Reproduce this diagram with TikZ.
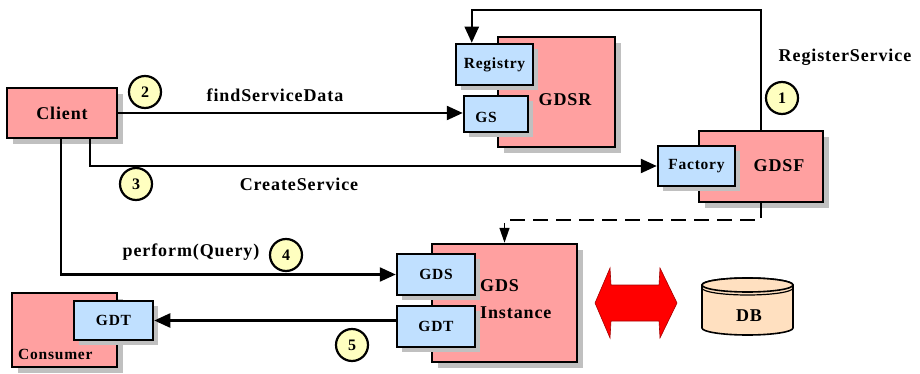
\documentclass[tikz,border=0pt]{standalone}
\usepackage{fontspec}
\setmainfont{Liberation Serif}[LetterSpace=5]
\usetikzlibrary{arrows.meta,shadows,calc}

\definecolor{pinkc}{RGB}{255,160,160}
\definecolor{bluec}{RGB}{192,224,255}
\definecolor{yellowc}{RGB}{255,255,192}
\definecolor{shadowc}{RGB}{192,192,192}
\definecolor{peachc}{RGB}{255,224,192}
\definecolor{arrowred}{RGB}{255,0,0}

\newcommand\bigfnt{\fontsize{18}{27}\selectfont\bfseries}
\newcommand\smallfnt{\fontsize{15.5}{18}\selectfont\bfseries}

\tikzset{
  pinkbox/.style={draw, line width=2.5pt, fill=pinkc, inner sep=0pt,
    general shadow={fill=shadowc, shadow xshift=6pt, shadow yshift=-6pt}},
  bluebox/.style={draw, line width=2.5pt, fill=bluec, inner sep=0pt, font=\smallfnt,
    general shadow={fill=shadowc, shadow xshift=5pt, shadow yshift=-5pt}},
  numcirc/.style={circle, draw, line width=2.2pt, fill=yellowc, minimum size=32pt,
    inner sep=0pt, font=\fontsize{16}{18}\selectfont\bfseries},
  lbl/.style={font=\bigfnt, inner sep=0pt},
  conn/.style={line width=2.4pt, -{Triangle[length=16pt,width=14pt]}},
  dashconn/.style={line width=1.4pt, dash pattern=on 15pt off 8pt,
    -{Triangle[length=15pt,width=10pt]}},
}

\begin{document}
\begin{tikzpicture}[x=1pt,y=-1pt]
\useasboundingbox (0,0) rectangle (920,374);

% client
\node[pinkbox, minimum width=110pt, minimum height=50pt, font=\bigfnt] (client) at (62,113) {Client};

% registry service with its two ports
\node[pinkbox, minimum width=117pt, minimum height=110pt] (gdsr) at (556.5,92) {};
\node[lbl] (gdsrlbl) at (565,100) {GDSR};
\node[bluebox, minimum width=77pt, minimum height=41pt] (registry) at (494.5,64.5) {Registry};
\node[bluebox, minimum width=64pt, minimum height=36pt] (gs) at (496,114) {};
\node[font=\smallfnt, inner sep=0pt] (gslbl) at (486,117) {GS};

% factory service
\node[pinkbox, minimum width=124pt, minimum height=71pt] (gdsf) at (761,166.5) {};
\node[lbl] (gdsflbl) at (779,166) {GDSF};
\node[bluebox, minimum width=77pt, minimum height=40pt] (factory) at (696.5,166) {Factory};

% data service instance
\node[pinkbox, minimum width=145pt, minimum height=118pt] (gdsi) at (504.5,303) {};
\node[lbl, anchor=west, align=left] (gdsilbl) at (480,299.5) {GDS\\Instance};
\node[bluebox, minimum width=78pt, minimum height=41pt] (gds) at (436,274.5) {GDS};
\node[bluebox, minimum width=78pt, minimum height=41pt] (gdt) at (436,326.5) {GDT};

% consumer
\node[pinkbox, minimum width=105pt, minimum height=74pt] (consumer) at (64.5,330) {};
\node[font=\smallfnt, inner sep=0pt, anchor=west] (conslbl) at (18,354) {Consumer};
\node[bluebox, minimum width=79pt, minimum height=39pt] (cgdt) at (113.5,320.5) {GDT};

% database and the exchange arrow
\fill[arrowred, draw=red!65!black, line width=0.6pt]
  (595,303) -- (610,268) -- (611,285) -- (659,285) -- (660,268) -- (677,303)
  -- (660,338) -- (659,321) -- (611,321) -- (610,338) -- cycle;
\filldraw[fill=peachc, line width=1.6pt]
  (702,285) -- (702,328) arc[start angle=180, end angle=360, x radius=45.5pt, y radius=7pt]
  -- (793,285) arc[start angle=0, end angle=180, x radius=45.5pt, y radius=7pt] -- cycle;
\filldraw[fill=peachc, line width=1.6pt] (747.5,285) ellipse [x radius=45.5pt, y radius=7pt];
\draw[line width=1.2pt] (702,288) arc[start angle=180, end angle=360, x radius=45.5pt, y radius=7pt];
\node[lbl] (db) at (749,316) {DB};

% connectors
\coordinate (topline) at (0,10);
\coordinate (dashline) at (0,220);
\draw[conn] (client.east) -- (client.east -| gs.west);
\draw[conn] ($(client.south west)+(84,0)$) |- (factory.west);
\draw[conn] ($(client.south west)+(55,0)$) |- (gds.west);
\draw[conn] (gdt.west |- cgdt.east) -- (cgdt.east);
\draw[conn] (gdsf.north) -- (gdsf.north |- topline) -| ($(registry.north west)+(17,0)$);
\draw[dashconn] (gdsf.south) -- (gdsf.south |- dashline) -| (gdsi.north);

% step numbers and message labels
\node[numcirc] (n1) at (782,98) {1};
\node[numcirc] (n2) at (145,92) {2};
\node[numcirc] (n3) at (136,184) {3};
\node[numcirc] (n4) at (286,255) {4};
\node[numcirc] (n5) at (352,345) {5};
\node[lbl] (lregister) at (845,57) {RegisterService};
\node[lbl] (lfind) at (275,95) {findServiceData};
\node[lbl] (lcreate) at (299,184) {CreateService};
\node[lbl] (lperform) at (191,252) {perform(Query)};
\end{tikzpicture}
\end{document}
